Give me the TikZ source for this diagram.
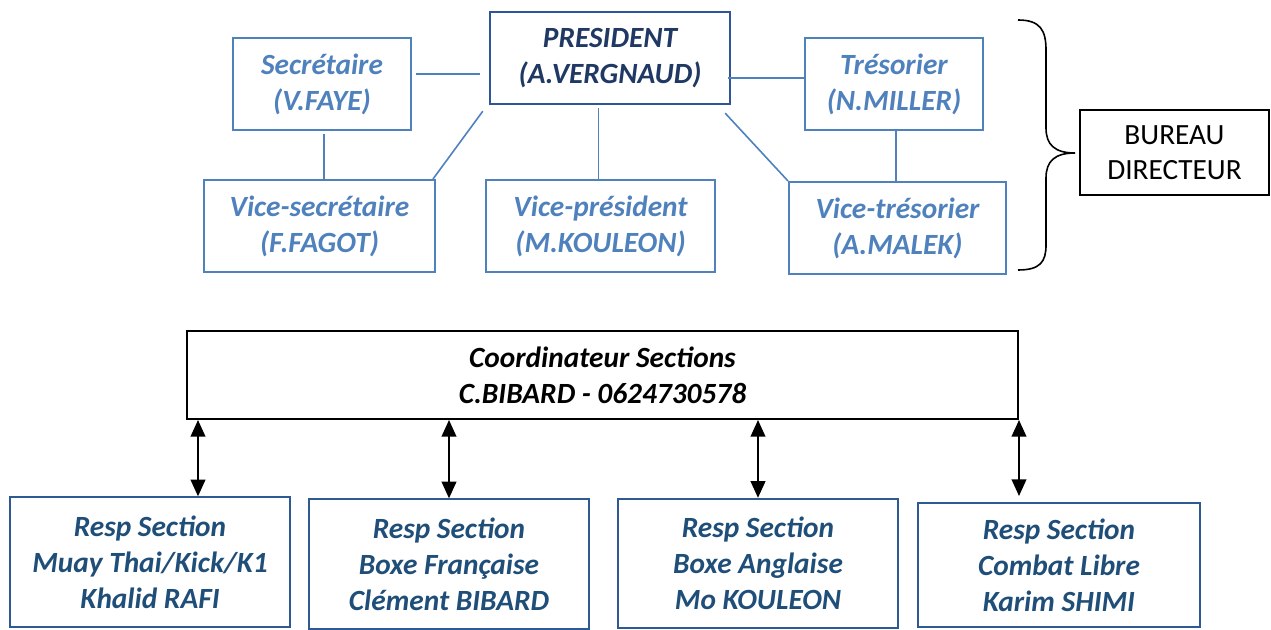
\documentclass[tikz,border=0pt]{standalone}
\usepackage{fontspec}
\setmainfont{Carlito}
\usetikzlibrary{arrows.meta,calc}
\definecolor{lblue}{HTML}{4F81BD}
\definecolor{pborder}{HTML}{2F5597}
\definecolor{navy}{HTML}{1F3864}
\definecolor{bborder}{HTML}{2E5A93}
\definecolor{btext}{HTML}{1F4E79}
\begin{document}
\begin{tikzpicture}[x=0.75pt,y=-0.75pt,
  bi/.style={font=\fontsize{22}{27}\selectfont\bfseries\itshape, align=center, inner sep=0pt},
  topbox/.style={bi, draw=lblue, line width=1.5pt, text=lblue, minimum height=69pt},
  presbox/.style={bi, draw=pborder, line width=1.8pt, text=navy, minimum height=69pt},
  secbox/.style={bi, draw=bborder, line width=1.5pt, text=btext, minimum width=210pt, minimum height=97pt},
  link/.style={draw=lblue, line width=1.2pt},
  dbl/.style={line width=1.4pt, {Triangle[length=12.5pt,width=11pt]}-{Triangle[length=12.5pt,width=11pt]}}]
\useasboundingbox (0,0) rectangle (1271,630);

% Bureau
\node[presbox, minimum width=180pt] (pres) at (610,58) {PRESIDENT\\(A.VERGNAUD)};
\node[topbox, minimum width=133.5pt] (sec) at (322,84) {Secrétaire\\(V.FAYE)};
\node[topbox, minimum width=133.5pt] (tres) at (894,84) {Trésorier\\(N.MILLER)};
\node[topbox, minimum width=173.25pt] (vsec) at (319.5,226) {Vice-secrétaire\\(F.FAGOT)};
\node[topbox, minimum width=171.75pt] (vp) at (600.5,226) {Vice-président\\(M.KOULEON)};
\node[topbox, minimum width=162.75pt] (vtres) at (897.5,228) {Vice-trésorier\\(A.MALEK)};
\node[draw=black, line width=1.5pt, minimum width=141.75pt, minimum height=63.75pt, align=center, inner sep=0pt,
      font=\fontsize{22}{26.5}\selectfont] (bur) at (1174.5,152.5) {BUREAU\\DIRECTEUR};

\draw[link] ([shift={(4,-10)}]sec.east) -- ([shift={(-9,16)}]pres.west);
\draw[link] ([shift={(-3,20)}]pres.east) -- ([shift={(0,-6)}]tres.west);
\draw[link] ([shift={(-6,6)}]pres.south west) -- ([shift={(-3,0)}]vsec.north east);
\draw[link] ([shift={(2,3)}]sec.south) -- ([shift={(2,0)}]sec.south |- vsec.north);
\draw[link] ([shift={(-2,3)}]vp.north |- pres.south) -- ([shift={(-2,0)}]vp.north);
\draw[link] ([shift={(-6,8)}]pres.south east) -- (vtres.north west);
\draw[link] ([shift={(2,0)}]tres.south) -- ([shift={(2,0)}]tres.south |- vtres.north);

% brace
\draw[line width=1.2pt] (1018,20) .. controls (1040,20) and (1046,30) .. (1046,50) -- (1046,128)
  .. controls (1046,145) and (1055,153) .. (1075,153)
  .. controls (1055,153) and (1046,161) .. (1046,178) -- (1046,245)
  .. controls (1046,262) and (1040,270) .. (1018,270);

% Sections
\node[bi, draw=black, line width=1.5pt, minimum width=623.25pt, minimum height=66pt] (coord) at (602.5,375)
  {Coordinateur Sections\\C.BIBARD - 0624730578};
\node[secbox] (b1) at (150,562) {Resp Section\\Muay Thai/Kick/K1\\Khalid RAFI};
\node[secbox] (b2) at (449,564) {Resp Section\\Boxe Française\\Clément BIBARD};
\node[secbox] (b3) at (758,563.5) {Resp Section\\Boxe Anglaise\\Mo KOULEON};
\node[secbox, minimum width=211.5pt, minimum height=93pt] (b4) at (1059,565) {Resp Section\\Combat Libre\\Karim SHIMI};

\coordinate (t1) at ($(b1.north)+(48,0)$);
\draw[dbl] (t1 |- coord.south) -- (t1);
\draw[dbl] (b2.north |- coord.south) -- (b2.north);
\draw[dbl] (b3.north |- coord.south) -- (b3.north);
\coordinate (e4) at ($(b4.north)+(0,-6)$);
\draw[dbl] (coord.south east) -- (coord.south east |- e4);
\end{tikzpicture}
\end{document}
